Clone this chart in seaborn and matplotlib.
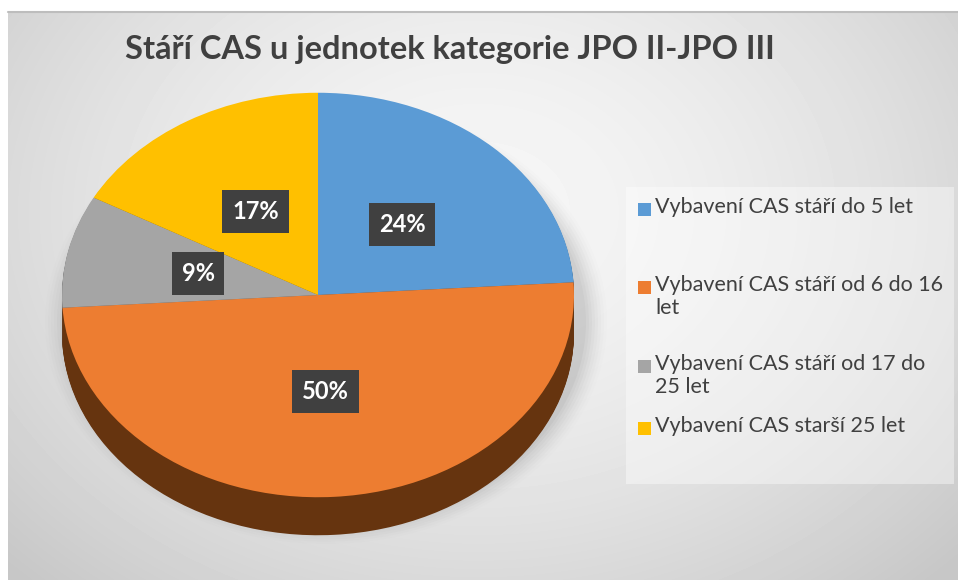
import numpy as np
import matplotlib.pyplot as plt
import seaborn as sns
from matplotlib.patches import Rectangle

# data
categories = ["Vybavení CAS stáří do 5 let",
              "Vybavení CAS stáří od 6 do 16\nlet",
              "Vybavení CAS stáří od 17 do\n25 let",
              "Vybavení CAS starší 25 let"]
shares = [24, 50, 9, 17]
title = "Stáří CAS u jednotek kategorie JPO II-JPO III"

sns.set_theme(style="white")
plt.rcParams["font.family"] = ["Lato", "DejaVu Sans"]

top_colors = sns.color_palette(["#5B9BD5", "#ED7D31", "#A5A5A5", "#FFC000"])
side_colors = sns.color_palette(["#2F5878", "#66340F", "#5A5A5A", "#8A6A00"])

W, H = 958, 580
fig = plt.figure(figsize=(W / 100, H / 100), dpi=100)
fig.patch.set_facecolor("white")

# background with soft radial gradient
bg = fig.add_axes([8 / W, 0, (W - 8) / W, (H - 12) / H])
yy, xx = np.mgrid[0:568, 0:950]
d = np.sqrt(((xx - 470) / 620.0) ** 2 + ((yy - 200) / 480.0) ** 2)
shade = np.clip(0.965 - 0.17 * d ** 1.6, 0.78, 1)
bg.imshow(shade, cmap="gray", vmin=0, vmax=1, aspect="auto")
bg.set_axis_off()
fig.add_artist(plt.Line2D([8 / W, 1], [1 - 12 / H, 1 - 12 / H], color="#bdbdbd", lw=1.5))

# pie axes in pixel-like coordinates, y squashed to make an ellipse
k = 0.79
ax = fig.add_axes([0, 0, 1, 1])
ax.patch.set_alpha(0)

cx, cy, r = 318, 295, 256
depth = 38


def pie_center(px_y):
    return (H - px_y) / k


# soft shadow
for i, a in enumerate(np.linspace(0.06, 0.012, 8)):
    ax.pie([1], radius=r + 4 + i * 3, center=(cx + 8, pie_center(cy + depth / 2 + 8)),
           colors=["#707070"], wedgeprops=dict(alpha=a, linewidth=0), frame=True)

# extruded side
for off in range(depth, 0, -1):
    ax.pie(shares, radius=r, center=(cx, pie_center(cy + off)), colors=side_colors,
           startangle=90, counterclock=False, wedgeprops=dict(linewidth=0), frame=True)

# top face
wedges, _, autotexts = ax.pie(
    shares, radius=r, center=(cx, pie_center(cy)), colors=top_colors,
    startangle=90, counterclock=False, autopct="%d%%", pctdistance=0.48,
    wedgeprops=dict(linewidth=0), frame=True,
    textprops=dict(color="white", fontsize=17, fontweight="bold"))
for t in autotexts:
    t.set_bbox(dict(boxstyle="square,pad=0.42", fc="#404040", ec="none"))
ax.set_aspect("auto")
ax.set_xlim(0, W)
ax.set_ylim(0, H / k)
ax.set_axis_off()

# title
fig.text(450 / W, 1 - 49 / H, title, ha="center", va="center",
         fontsize=23.5, fontweight="bold", color="#404040")

# legend
fig.add_artist(Rectangle((626 / W, 1 - 484 / H), (954 - 626) / W, (484 - 187) / H,
                         transform=fig.transFigure, fc="white", alpha=0.4, ec="none"))
first_line = [209, 287, 366, 428]
for lab, col, y0 in zip(categories, top_colors, first_line):
    fig.add_artist(Rectangle((638 / W, 1 - (y0 + 6.5) / H), 13 / W, 13 / H,
                             transform=fig.transFigure, fc=col, ec="none"))
    fig.text(655 / W, 1 - (y0 - 12) / H, lab, ha="left", va="top", fontsize=15.5,
             color="#404040", linespacing=1.2)

fig.savefig("out.png", dpi=100)
